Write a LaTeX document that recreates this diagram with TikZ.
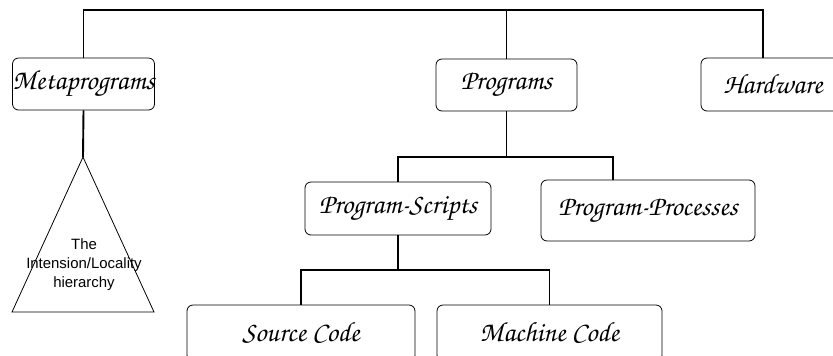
\documentclass[tikz,border=0pt]{standalone}
\usepackage{fontspec}
\newfontfamily\armfont{Liberation Sans}
\newfontfamily\chorusfont{texgyrechorus-mediumitalic.otf}
\usetikzlibrary{positioning, calc}
\definecolor{inkdark}{RGB}{0,0,0}
\newcommand{\chanc}{\chorusfont\fontsize{28}{32}\selectfont}
\tikzset{
  tierbox/.style={draw=inkdark, line width=0.8pt, rounded corners=6bp, inner sep=0pt,
    minimum width=#1, font=\chanc, text=inkdark},
  link/.style={draw=inkdark, line width=1.9pt},
  trilbl/.style={font=\armfont\fontsize{15}{19}\selectfont, align=center, text=inkdark},
}

\begin{document}
\begin{tikzpicture}[x=1bp, y=-1bp]
\useasboundingbox (0,0) rectangle (833,355);

% ============================================================ top tier
\node[tierbox=141bp, minimum height=52bp] (meta) at (83.5, 84)  {Metaprograms};
\node[tierbox=141bp, minimum height=52bp] (prog) at (506.5, 85) {Programs};
\node[tierbox=144bp, minimum height=53bp] (hw)   at (773, 84.5) {Hardware};
\coordinate (bus) at (0, 10);
\coordinate (hwin) at ([xshift=-10bp]hw.north);
\draw[link] (meta.north) -- (meta.north |- bus) -- (hwin |- bus) -- (hwin);
\draw[link] (prog.north) -- (prog.north |- bus);

% ============================================================ metaprograms triangle
\coordinate (apex)  at (83, 157);
\coordinate (baseL) at (12, 312);
\coordinate (baseR) at (154, 312);
\draw[inkdark, line width=0.8pt] (apex) -- (baseL) -- (baseR) -- cycle;
\draw[link] (meta.south) -- (apex);
\node[trilbl] (tri) at (84, 265) {The\\Intension/Locality\\hierarchy};

% ============================================================ programs tier
\node[tierbox=186bp, minimum height=53bp] (ps) at (398, 208.5) {Program-Scripts};
\node[tierbox=214bp, minimum height=61bp] (pp) at (648, 210.5) {Program-Processes};
\coordinate (fork1) at (0, 157);
\coordinate (ppin) at ([xshift=-35bp]pp.north);
\draw[link] (prog.south) -- (prog.south |- fork1);
\draw[link] (ps.north) -- (ps.north |- fork1) -- (ppin |- fork1) -- (ppin);

% ============================================================ scripts tier
\node[tierbox=228bp, minimum height=56bp] (sc) at (301, 333)   {Source Code};
\node[tierbox=225bp, minimum height=56bp] (mc) at (549.5, 333) {Machine Code};
\coordinate (fork2) at (0, 270);
\draw[link] (ps.south) -- (ps.south |- fork2);
\draw[link] (sc.north) -- (sc.north |- fork2) -- (mc.north |- fork2) -- (mc.north);

\end{tikzpicture}
\end{document}
